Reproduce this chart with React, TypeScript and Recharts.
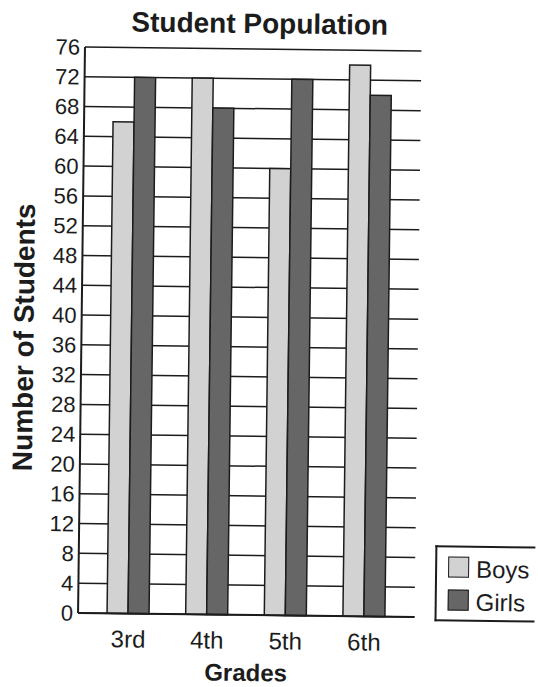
import React from 'react';
import { BarChart, Bar, XAxis, YAxis, CartesianGrid, Legend } from 'recharts';

const grades = ['3rd', '4th', '5th', '6th'];
const boys = [66, 72, 60, 74];
const girls = [72, 68, 72, 70];
const yTicks = [0, 4, 8, 12, 16, 20, 24, 28, 32, 36, 40, 44, 48, 52, 56, 60, 64, 68, 72, 76];

const BOYS_FILL = '#d2d2d2';
const GIRLS_FILL = '#666666';
const INK = '#1c1c1c';
const FONT = '"Liberation Sans", Arial, Helvetica, sans-serif';

const data = grades.map((grade, i) => ({ grade, Boys: boys[i], Girls: girls[i] }));

const YTitle = (props: any) => {
  const vb = props.viewBox || {};
  const x = vb.x + 24;
  const y = vb.y + vb.height / 2 + 8;
  return (
    <text
      x={x}
      y={y}
      transform={`rotate(-90 ${x} ${y})`}
      textAnchor="middle"
      dominantBaseline="central"
      fontFamily={FONT}
      fontWeight="bold"
      fontSize={28}
      fill={INK}
    >
      Number of Students
    </text>
  );
};

const XTitle = (props: any) => {
  const vb = props.viewBox || {};
  return (
    <text
      x={vb.x + vb.width / 2}
      y={vb.y + vb.height - 6}
      textAnchor="middle"
      fontFamily={FONT}
      fontWeight="bold"
      fontSize={24}
      fill={INK}
    >
      Grades
    </text>
  );
};

const LegendBox = (props: any) => {
  const payload = props.payload || [];
  return (
    <div
      style={{
        boxSizing: 'border-box',
        width: 100,
        height: 76,
        border: `2px solid ${INK}`,
        borderRight: 'none',
        padding: '9px 0 0 11px',
        background: '#fff',
        fontFamily: FONT,
        fontSize: 24,
        color: INK,
      }}
    >
      {payload.map((item: any) => (
        <div
          key={item.value}
          style={{ display: 'flex', alignItems: 'center', height: 21, marginBottom: 12 }}
        >
          <span
            style={{
              boxSizing: 'border-box',
              width: 21,
              height: 21,
              border: `1.5px solid ${INK}`,
              background: item.color,
              marginRight: 7,
              flex: 'none',
            }}
          />
          <span style={{ lineHeight: '21px', position: 'relative', top: 2 }}>{item.value}</span>
        </div>
      ))}
    </div>
  );
};

export default function App() {
  return (
    <div
      style={{
        position: 'absolute',
        left: 0,
        top: 0,
        width: 538,
        height: 687,
        background: '#fff',
        // the printed page sits slightly askew
        transform: 'rotate(0.7deg)',
        transformOrigin: '250px 332px',
      }}
    >
      <div
        style={{
          position: 'absolute',
          left: 0,
          top: 10,
          width: 512,
          textAlign: 'center',
          fontFamily: FONT,
          fontWeight: 'bold',
          fontSize: 28,
          lineHeight: '27px',
          color: INK,
        }}
      >
        Student Population
      </div>
      <BarChart
        width={538}
        height={687}
        data={data}
        margin={{ top: 49, right: 120, bottom: 0, left: 0 }}
        barGap={0}
        barSize={21}
      >
        <CartesianGrid horizontal vertical={false} stroke={INK} strokeWidth={1.5} />
        <XAxis
          dataKey="grade"
          height={72}
          padding={{ left: 11, right: 11 }}
          axisLine={{ stroke: INK, strokeWidth: 2 }}
          tickLine={false}
          tickSize={0}
          tickMargin={17}
          tick={{ fill: INK, fontSize: 24, fontFamily: FONT }}
          label={<XTitle />}
        />
        <XAxis
          xAxisId="top"
          orientation="top"
          dataKey="grade"
          height={0}
          axisLine={{ stroke: INK, strokeWidth: 2 }}
          tick={false}
          tickLine={false}
        />
        <YAxis
          domain={[0, 76]}
          ticks={yTicks}
          interval={0}
          width={81.5}
          axisLine={{ stroke: INK, strokeWidth: 2 }}
          tickLine={false}
          tickSize={0}
          tickMargin={5}
          tick={{ fill: INK, fontSize: 22, fontFamily: FONT }}
          label={<YTitle />}
        />
        <YAxis
          yAxisId="right"
          orientation="right"
          domain={[0, 76]}
          width={0}
          axisLine={{ stroke: INK, strokeWidth: 2 }}
          tick={false}
          tickLine={false}
        />
        <Legend
          layout="vertical"
          align="center"
          verticalAlign="middle"
          content={<LegendBox />}
          wrapperStyle={{ left: 438, top: 543, width: 100, height: 76 }}
        />
        <Bar dataKey="Boys" fill={BOYS_FILL} stroke={INK} strokeWidth={1.5} isAnimationActive={false} />
        <Bar dataKey="Girls" fill={GIRLS_FILL} stroke={INK} strokeWidth={1.5} isAnimationActive={false} />
      </BarChart>
    </div>
  );
}
